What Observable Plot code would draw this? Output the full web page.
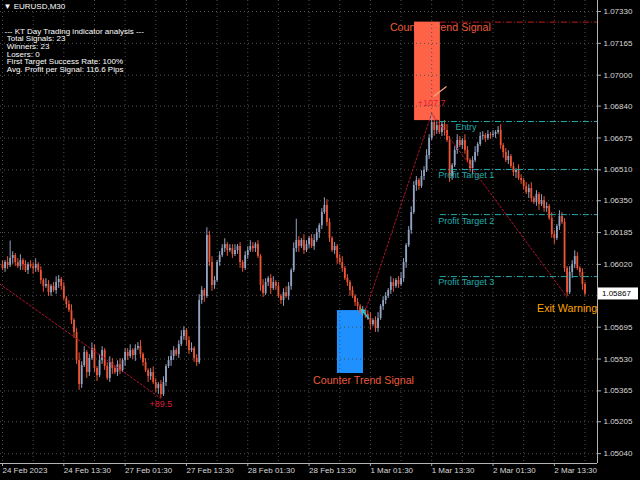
<!DOCTYPE html>
<html><head><meta charset="utf-8">
<script src="https://cdn.jsdelivr.net/npm/d3@7"></script>
<script src="https://cdn.jsdelivr.net/npm/@observablehq/plot@0.6"></script>
<style>html,body{margin:0;padding:0;background:#000;overflow:hidden;}</style>
</head><body><div id="chart"></div>
<script>
// ---- data (EURUSD M30, bar index 0 = 24 Feb 2023 01:30) ----
const closes = [
1.05999,1.06030,1.06014,1.06051,1.06066,1.06030,1.06009,1.06040,1.06019,1.05988,
1.06019,1.06009,1.05999,1.06019,1.05988,1.05937,1.05906,1.05916,1.05874,1.05906,
1.05885,1.05926,1.05942,1.05906,1.05843,1.05812,1.05781,1.05729,1.05667,1.05522,
1.05398,1.05496,1.05564,1.05460,1.05533,1.05584,1.05481,1.05444,1.05522,1.05574,
1.05491,1.05429,1.05512,1.05481,1.05460,1.05501,1.05470,1.05522,1.05564,1.05543,
1.05574,1.05548,1.05584,1.05595,1.05553,1.05512,1.05470,1.05439,1.05460,1.05408,
1.05377,1.05398,1.05346,1.05408,1.05491,1.05522,1.05543,1.05574,1.05553,1.05605,
1.05647,1.05678,1.05626,1.05574,1.05584,1.05533,1.05512,1.05833,1.05885,1.05854,
1.06170,1.06030,1.05911,1.05937,1.06030,1.06066,1.06102,1.06123,1.06092,1.06102,
1.06071,1.06092,1.06113,1.06030,1.05999,1.06066,1.06092,1.06113,1.06102,1.06123,
1.06061,1.05911,1.05869,1.05926,1.05947,1.05895,1.05926,1.05906,1.05854,1.05833,
1.05874,1.05854,1.05906,1.05988,1.06102,1.06144,1.06113,1.06144,1.06092,1.06123,
1.06154,1.06113,1.06144,1.06185,1.06221,1.06289,1.06325,1.06237,1.06154,1.06092,
1.06113,1.06051,1.06030,1.05999,1.05947,1.05926,1.05885,1.05854,1.05823,1.05802,
1.05771,1.05781,1.05760,1.05740,1.05709,1.05729,1.05688,1.05740,1.05802,1.05833,
1.05854,1.05885,1.05926,1.05906,1.05937,1.05916,1.05947,1.06030,1.06118,1.06196,
1.06289,1.06429,1.06455,1.06424,1.06475,1.06506,1.06584,1.06672,1.06755,1.06714,
1.06739,1.06703,1.06745,1.06714,1.06662,1.06475,1.06532,1.06610,1.06662,1.06636,
1.06662,1.06610,1.06558,1.06517,1.06558,1.06600,1.06641,1.06683,1.06688,1.06672,
1.06693,1.06688,1.06693,1.06703,1.06714,1.06636,1.06600,1.06558,1.06579,1.06527,
1.06496,1.06506,1.06465,1.06455,1.06424,1.06392,1.06413,1.06361,1.06341,1.06382,
1.06330,1.06351,1.06310,1.06320,1.06258,1.06175,1.06154,1.06216,1.06268,1.06237,
1.05999,1.05874,1.05978,1.06019,1.06061,1.05999,1.05978,1.05916,1.05867];
const firstOpen = 1.06019;
const upperWickPips = [
2,1,3,9,2,1,2,3,1,2, 1,2,2,3,1,2,1,3,2,1, 2,3,2,1,2,1,2,3,1,2, 4,2,3,1,2,3,2,1,3,2,
1,2,3,2,1,2,3,1,2,2, 3,1,2,2,3,1,2,1,2,3, 2,1,2,3,1,2,3,2,1,2, 3,2,1,2,3,1,2,3,2,1,
4,2,3,2,1,2,2,3,1,2, 2,3,1,2,1,2,2,3,2,1, 2,1,3,2,1,2,3,1,2,1, 2,3,2,1,3,11,2,1,3,2,
1,2,3,2,1,2,4,3,2,1, 2,1,2,3,1,2,1,2,1,2, 1,2,1,2,3,1,2,3,1,2, 2,1,3,2,1,2,3,2,1,2,
3,2,2,1,3,2,3,2,4,2, 2,3,1,2,3,2,1,2,3,2, 1,3,2,1,2,3,1,2,2,1, 2,1,2,1,2,3,1,2,3,1,
2,1,3,2,1,2,2,3,1,2, 1,3,2,2,1,3,2,1,3,2, 2,1,3,2,3,2,1,2,1];
const lowerWickPips = [
1,2,2,1,3,2,1,2,3,1, 2,1,3,2,1,2,3,1,2,2, 1,2,3,2,1,2,1,2,3,2, 3,2,1,3,2,1,2,3,1,2,
2,1,2,3,1,2,2,1,3,2, 1,2,3,1,2,2,1,3,2,1, 2,3,2,1,2,1,3,2,1,2, 1,2,3,2,1,2,2,1,2,3,
1,2,3,2,1,2,1,2,3,1, 2,1,2,3,2,1,2,1,2,2, 1,3,2,1,2,3,1,2,1,2, 3,1,2,2,1,2,3,1,2,1,
2,1,2,1,3,2,1,2,2,1, 2,3,1,2,1,2,3,1,2,2, 1,2,2,1,3,1,2,2,1,2, 2,1,2,3,1,2,1,2,3,1,
2,1,3,2,1,2,1,2,1,3, 2,1,2,3,1,3,2,1,2,1, 2,2,1,2,3,1,2,1,2,2, 1,2,1,2,1,2,3,1,2,1,
2,3,1,2,2,1,3,2,1,2, 3,1,2,2,1,2,3,1,2,1, 2,2,1,3,2,1,2,3,1];

const priceTicks = [1.07330,1.07165,1.07000,1.06840,1.06675,1.06510,1.06350,1.06185,1.06020,1.05695,1.05530,1.05365,1.05205,1.05040];
const hiddenGridPrice = 1.05860; // grid level whose label sits under the price box
const gridBars = [0,12,24,36,48,60,72,84,96,108,120,132,144,156,168,180,192,204,216,228];
const timeTickBars = [0,24,48,72,96,120,144,168,192,216];
const timeLabels = ["24 Feb 2023","24 Feb 13:30","27 Feb 01:30","27 Feb 13:30","28 Feb 01:30","28 Feb 13:30","1 Mar 01:30","1 Mar 13:30","2 Mar 01:30","2 Mar 13:30"];
const currentPrice = 1.05867;
const symbolTitle = "\u25BC EURUSD,M30";
const infoLines = ["--- KT Day Trading indicator analysis ---","\u00a0Total Signals: 23","\u00a0Winners: 23","\u00a0Losers: 0","\u00a0First Target Success Rate: 100%","\u00a0Avg. Profit per Signal: 116.6 Pips"];

// zigzag legs
const zigBars   = [-1, 62, 142, 168, 221];
const zigPrices = [1.05918, 1.05326, 1.05776, 1.06802, 1.05850];
const zigLeg    = [0, 0, 1, 1, 1];

// signal boxes
const boxFrom  = [161.3, 131.1];
const boxTo    = [171.4, 141.3];
const boxLow   = [1.06765, 1.05455];
const boxHigh  = [1.07275, 1.05781];
const boxColor = ["#ff6347", "#1e90ff"];

// trade levels
const levelNames  = ["Entry","Profit Target 1","Profit Target 2","Profit Target 3"];
const levelPrices = [1.06760, 1.06512, 1.06278, 1.05957];
const levelFrom   = 171.4;
const levelLabelBar = [177.3, 170.6, 170.6, 170.6];
const stopPrice = 1.07275;

// annotations
const signalText = "Counter Trend Signal";
const signalTextBars = [171.4, 141.3];
const signalTextPrices = [1.07247, 1.05419];
const lowResult = "+89.5", lowResultBar = 62, lowResultPrice = 1.05326;
const highResult = "+107.7", highResultBar = 168, highResultPrice = 1.06802;
const exitText = "Exit Warning";
const exitBar = 221, exitPrice = 1.05850;
// small signal arrows
const arrowFromBar = [143.3, 168.7], arrowToBar = [140.6, 173.8];
const arrowFromPrice = [1.05740, 1.06890], arrowToPrice = [1.05787, 1.06942];
const arrowColor = ["#25c6e0", "#f4a582"];
const arrowHead = [3, 0];

// ---- build tables ----
const pip = 0.0001;
const candles = closes.map((c, i) => {
  const o = i === 0 ? firstOpen : closes[i - 1];
  return {i, open: o, close: c,
    high: Math.max(o, c) + upperWickPips[i] * pip,
    low: Math.min(o, c) - lowerWickPips[i] * pip,
    up: c >= o};
});
const bulls = candles.filter(d => d.up), bears = candles.filter(d => !d.up);
const zig = zigBars.map((b, k) => ({bar: b, price: zigPrices[k], leg: zigLeg[k]}));
const boxes = boxFrom.map((b, k) => ({x1: b, x2: boxTo[k], y1: boxLow[k], y2: boxHigh[k], fill: boxColor[k]}));
const levels = levelNames.map((n, k) => ({name: n, price: levelPrices[k], labelBar: levelLabelBar[k]}));
const arrows = arrowFromBar.map((b, k) => ({x1: b, x2: arrowToBar[k], y1: arrowFromPrice[k], y2: arrowToPrice[k], color: arrowColor[k], head: arrowHead[k]}));
const labelByBar = new Map(timeTickBars.map((b, k) => [b, timeLabels[k]]));
const xDomain = [-0.78, 232.9];
const yDomain = [1.04989, 1.07387];

const bull = "#93a3c3", bear = "#ee5535", teal = "#22adad", gridC = "#505050";
const font = "'Liberation Sans', Arial, sans-serif";

const chart = Plot.plot({
  width: 640, height: 480,
  marginLeft: 0, marginRight: 43, marginTop: 0, marginBottom: 17,
  x: {domain: xDomain},
  y: {domain: yDomain},
  style: {background: "#000", color: "#ddd", fontFamily: font, fontSize: "8px"},
  marks: [
    Plot.text([signalText], {x: [signalTextBars[0]], y: [signalTextPrices[0]], fill: "#ea5a3d", fontSize: 10.7}),
    Plot.rect(boxes, {x1: "x1", x2: "x2", y1: "y1", y2: "y2", fill: "fill"}),
    Plot.gridY([...priceTicks, hiddenGridPrice], {stroke: gridC, strokeOpacity: 1, strokeDasharray: "1,3"}),
    Plot.gridX(gridBars, {stroke: gridC, strokeOpacity: 1, strokeDasharray: "1,3"}),
    Plot.ruleX(bulls, {x: "i", y1: "low", y2: "high", stroke: bull}),
    Plot.ruleX(bears, {x: "i", y1: "low", y2: "high", stroke: bear}),
    Plot.ruleX(bulls, {x: "i", y1: "open", y2: "close", stroke: bull, strokeWidth: 1.8}),
    Plot.ruleX(bears, {x: "i", y1: "open", y2: "close", stroke: bear, strokeWidth: 1.8}),
    Plot.line(zig, {x: "bar", y: "price", z: "leg", stroke: "#b3122e", strokeWidth: 1, strokeDasharray: "2,2"}),
    Plot.ruleY([stopPrice], {x1: levelFrom, x2: xDomain[1], stroke: "#c01818", strokeDasharray: "6,2,1,2"}),
    Plot.ruleY(levels, {y: "price", x1: levelFrom, x2: xDomain[1], stroke: teal, strokeDasharray: "6,2,1,2"}),
    Plot.text(levels, {x: "labelBar", y: "price", text: "name", textAnchor: "start", dy: 6, fill: teal, fontSize: 9}),
    Plot.arrow(arrows.filter(d => d.head > 0), {x1: "x1", y1: "y1", x2: "x2", y2: "y2", stroke: "color", headLength: 4, strokeWidth: 1.5}),
    Plot.link(arrows.filter(d => d.head === 0), {x1: "x1", y1: "y1", x2: "x2", y2: "y2", stroke: "color", strokeWidth: 1.2}),
    Plot.text([signalText], {x: [signalTextBars[1]], y: [signalTextPrices[1]], fill: "#ea5a3d", fontSize: 10.7}),
    Plot.text([lowResult], {x: [lowResultBar], y: [lowResultPrice], dy: 6, fill: "#dc1e3c", fontSize: 9}),
    Plot.text([highResult], {x: [highResultBar], y: [highResultPrice], dy: -10, fill: "#dc1e3c", fontSize: 9}),
    Plot.text([exitText], {x: [exitBar], y: [exitPrice], dy: 11, fill: "#ffa500", fontSize: 10.7}),
    Plot.text([symbolTitle], {frameAnchor: "top-left", dx: 3, dy: 3, fill: "#fff", fontSize: 8}),
    Plot.text([infoLines.join("\n")], {frameAnchor: "top-left", dx: 4, dy: 28, lineHeight: 0.95, fill: "#fff", fontSize: 8}),
    Plot.axisY(priceTicks, {anchor: "right", tickSize: 3, tickPadding: 3, tickFormat: d => d.toFixed(5), stroke: "#aaa", fill: "#d8d8d8", fontSize: 8, label: null}),
    Plot.axisX(timeTickBars, {anchor: "bottom", tickSize: 3, tickPadding: 1, tickFormat: d => labelByBar.get(d), textAnchor: "start", stroke: "#aaa", fill: "#d8d8d8", fontSize: 8, label: null}),
    Plot.ruleX([xDomain[1]], {stroke: "#b4b4b4"}),
    Plot.ruleY([yDomain[0]], {stroke: "#b4b4b4"})
  ]
});
document.getElementById("chart").appendChild(chart);

// current price box on the right axis, placed with the plot's own scales
const svg = d3.select(chart);
const ys = chart.scale("y"), xs = chart.scale("x");
const py = ys.apply(currentPrice), px = xs.apply(xDomain[1]);
const g = svg.append("g");
g.append("rect").attr("x", px + 1).attr("y", py - 6).attr("width", 40).attr("height", 12).attr("fill", "#fff");
g.append("text").attr("x", px + 5).attr("y", py).attr("dy", "0.32em").attr("fill", "#000")
  .attr("text-anchor", "start").attr("font-size", 8).attr("font-family", font).text(currentPrice.toFixed(5));
</script></body></html>
